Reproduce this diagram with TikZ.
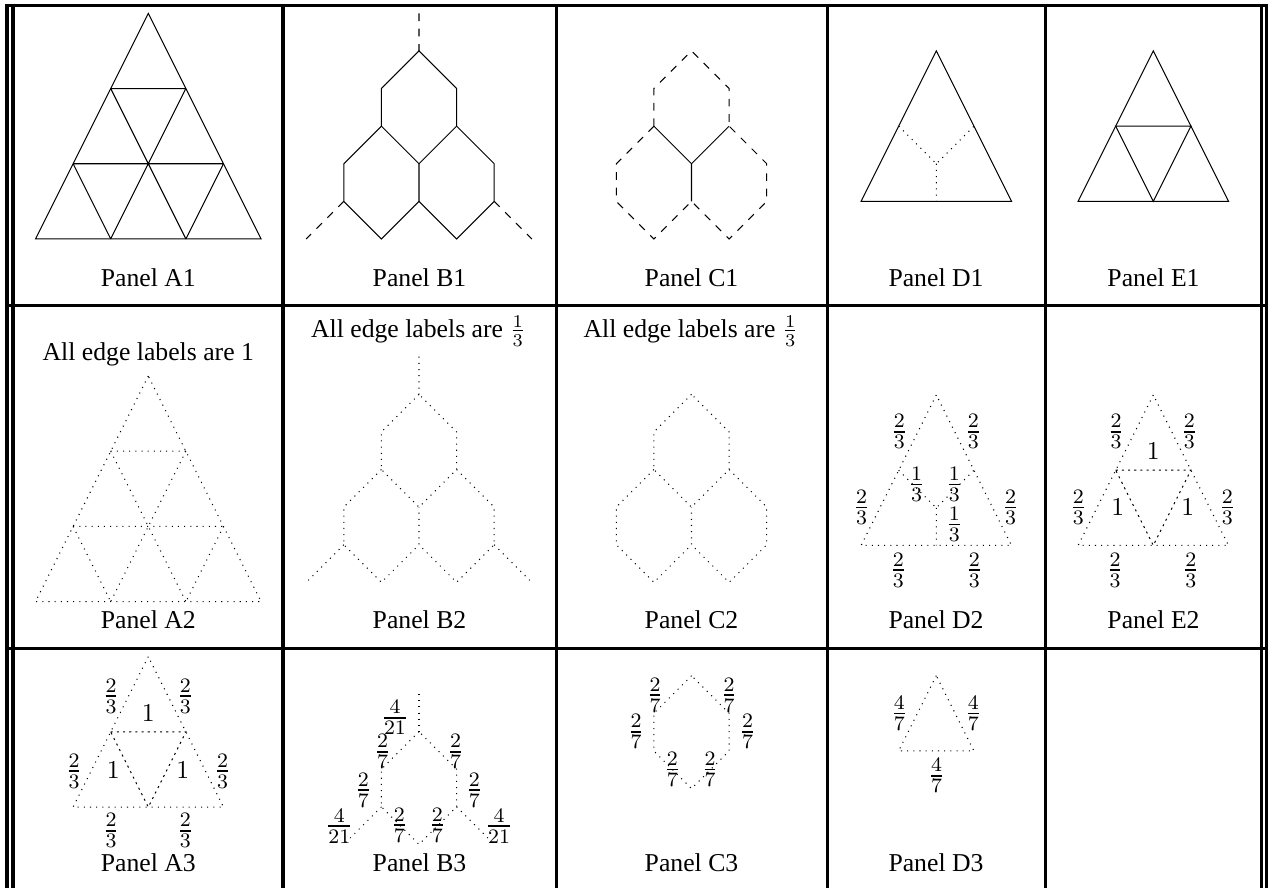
\documentclass[tikz,border=0pt]{standalone}
\usepackage{amsmath}
\usepackage[no-math]{fontspec}
\setmainfont{Liberation Serif}
\tikzset{
  rule/.style={line width=1.17pt},
  solidedge/.style={line width=0.4pt},
  dashedge/.style={line width=0.4pt,dashed},
  dotedge/.style={line width=0.4pt,dotted},
  inneredge/.style={line width=0.4pt,dash pattern=on 0.8pt off 1.6pt},
  lbl/.style={inner sep=0pt,font=\fontsize{11.4}{13}\selectfont},
  onelbl/.style={inner sep=0pt},
  captxt/.style={inner sep=0pt,anchor=base},
  panel/.style 2 args={shift={(#1,#2)},x=14.63pt,y=-14.63pt}
}
\newcommand\efrac[2]{\genfrac{}{}{0.65pt}{1}{#1}{#2}}
\newcommand\trigrid[1]{%
  \draw[#1] (0,0) -- (-3,6) -- (3,6) -- cycle;
  \draw[#1] (-1,2) -- (1,2) (-2,4) -- (2,4)
            (-1,2) -- (1,6) (-2,4) -- (-1,6)
            (1,2) -- (-1,6) (2,4) -- (1,6);}
\newcommand\hexthree[1]{%
  \draw[#1] (0,1) -- (-1,2) -- (-1,3) -- (0,4) -- (1,3) -- (1,2) -- cycle;
  \draw[#1] (-1,3) -- (-2,4) -- (-2,5) -- (-1,6) -- (0,5) -- (0,4);
  \draw[#1] (1,3) -- (2,4) -- (2,5) -- (1,6) -- (0,5);}
\begin{document}
\begin{tikzpicture}[x=0.389pt,y=-0.389pt]
\useasboundingbox (0,0) rectangle (1268,888);
% table rules
\draw[rule] (5.5,5.3) -- (1268,5.3);
\draw[rule] (5.5,305.5) -- (1268,305.5);
\draw[rule] (5.5,648.3) -- (1268,648.3);
\foreach \xx in {7,13,283,556,827,1045,1261.5,1266.5}
  \draw[rule] (\xx,3.8) -- (\xx,888);

% ---------------- Row 1 ----------------
\begin{scope}[panel={148.3}{13.3}]
  \trigrid{solidedge}
\end{scope}
\begin{scope}[panel={419}{13.3}]
  \hexthree{solidedge}
  \draw[dashedge] (0,0) -- (0,1) (-2,5) -- (-3,6) (2,5) -- (3,6);
\end{scope}
\begin{scope}[panel={691.5}{13.3}]
  \draw[solidedge] (-1,3) -- (0,4) -- (1,3) (0,4) -- (0,5);
  \draw[dashedge] (-1,3) -- (-1,2) -- (0,1) -- (1,2) -- (1,3);
  \draw[dashedge] (-1,3) -- (-2,4) -- (-2,5) -- (-1,6) -- (0,5) -- (1,6) -- (2,5) -- (2,4) -- (1,3);
\end{scope}
\begin{scope}[panel={936.3}{13.3}]
  \draw[solidedge] (0,1) -- (-2,5) -- (2,5) -- cycle;
  \draw[dotedge] (-1,3) -- (0,4) -- (1,3) (0,4) -- (0,5);
\end{scope}
\begin{scope}[panel={1153.3}{13.3}]
  \draw[solidedge] (0,1) -- (-2,5) -- (2,5) -- cycle;
  \draw[solidedge] (-1,3) -- (1,3) -- (0,5) -- cycle;
\end{scope}
\node[captxt] (capA1) at (148.3,286) {Panel A1};
\node[captxt] (capB1) at (419.5,286) {Panel B1};
\node[captxt] (capC1) at (691.5,286) {Panel C1};
\node[captxt] (capD1) at (936,286) {Panel D1};
\node[captxt] (capE1) at (1153.5,286) {Panel E1};

% ---------------- Row 2 ----------------
\node[captxt] (txtA2) at (148.3,360.5) {All edge labels are 1};
\node[captxt] (txtB2) at (418.5,337.3) {All edge labels are $\frac{1}{3}$};
\node[captxt] (txtC2) at (691,337.3) {All edge labels are $\frac{1}{3}$};
\begin{scope}[panel={148.3}{376}]
  \trigrid{dotedge}
\end{scope}
\begin{scope}[panel={419}{356.7}]
  \hexthree{dotedge}
  \draw[dotedge] (0,0) -- (0,1) (-2,5) -- (-3,6) (2,5) -- (3,6);
\end{scope}
\begin{scope}[panel={691.5}{356.7}]
  \hexthree{dotedge}
\end{scope}
\begin{scope}[panel={936.3}{357.4}]
  \draw[dotedge] (0,1) -- (-2,5) -- (2,5) -- cycle;
  \draw[dotedge] (-1,3) -- (0,4) -- (1,3) (0,4) -- (0,5);
\end{scope}
\begin{scope}[panel={1153.3}{357.4}]
  \draw[dotedge] (0,1) -- (-2,5) -- (2,5) -- cycle;
  \draw[inneredge] (-1,3) -- (1,3) -- (0,5) -- cycle;
\end{scope}
% D2 labels
\node[lbl] (d2a) at (899.3,431.7) {$\efrac{2}{3}$};
\node[lbl] (d2b) at (973.3,431.7) {$\efrac{2}{3}$};
\node[lbl] (d2c) at (861.7,507.3) {$\efrac{2}{3}$};
\node[lbl] (d2d) at (1010.7,507.3) {$\efrac{2}{3}$};
\node[lbl] (d2e) at (898.3,570) {$\efrac{2}{3}$};
\node[lbl] (d2f) at (974.3,570) {$\efrac{2}{3}$};
\node[lbl] (d2g) at (916.7,484.3) {$\efrac{1}{3}$};
\node[lbl] (d2h) at (954.3,484.3) {$\efrac{1}{3}$};
\node[lbl] (d2i) at (954.3,524.3) {$\efrac{1}{3}$};
% E2 labels
\node[lbl] (e2a) at (1116,431.7) {$\efrac{2}{3}$};
\node[lbl] (e2b) at (1189.3,431.7) {$\efrac{2}{3}$};
\node[lbl] (e2c) at (1078.3,507.3) {$\efrac{2}{3}$};
\node[lbl] (e2d) at (1227.3,507.3) {$\efrac{2}{3}$};
\node[lbl] (e2e) at (1115,570) {$\efrac{2}{3}$};
\node[lbl] (e2f) at (1190.7,570) {$\efrac{2}{3}$};
\node[onelbl] (e2g) at (1153.3,451.7) {$1$};
\node[onelbl] (e2h) at (1117.7,507.3) {$1$};
\node[onelbl] (e2i) at (1187.7,507.3) {$1$};
\node[captxt] (capA2) at (148.3,628) {Panel A2};
\node[captxt] (capB2) at (419.5,628) {Panel B2};
\node[captxt] (capC2) at (691.5,628) {Panel C2};
\node[captxt] (capD2) at (936,628) {Panel D2};
\node[captxt] (capE2) at (1153.5,628) {Panel E2};

% ---------------- Row 3 ----------------
\begin{scope}[panel={148.3}{619.1}]
  \draw[dotedge] (0,1) -- (-2,5) -- (2,5) -- cycle;
  \draw[inneredge] (-1,3) -- (1,3) -- (0,5) -- cycle;
\end{scope}
\node[lbl] (a3a) at (111,696) {$\efrac{2}{3}$};
\node[lbl] (a3b) at (185.3,696) {$\efrac{2}{3}$};
\node[lbl] (a3c) at (74,771) {$\efrac{2}{3}$};
\node[lbl] (a3d) at (222.7,771) {$\efrac{2}{3}$};
\node[lbl] (a3e) at (111,830.5) {$\efrac{2}{3}$};
\node[lbl] (a3f) at (185.3,830.5) {$\efrac{2}{3}$};
\node[onelbl] (a3g) at (148.3,713) {$1$};
\node[onelbl] (a3h) at (113.3,770) {$1$};
\node[onelbl] (a3i) at (182.7,770) {$1$};
\begin{scope}[panel={419}{694}]
  \draw[dotedge] (0,0) -- (0,1);
  \draw[dotedge] (0,1) -- (-1,2) -- (-1,3) -- (0,4) -- (1,3) -- (1,2) -- cycle;
  \draw[dotedge] (-1,3) -- (-2,4) (1,3) -- (2,4);
\end{scope}
\node[lbl] (b3a) at (395,717.7) {$\efrac{4}{21}$};
\node[lbl] (b3b) at (382.7,751.7) {$\efrac{2}{7}$};
\node[lbl] (b3c) at (455.7,751.7) {$\efrac{2}{7}$};
\node[lbl] (b3d) at (363.3,790) {$\efrac{2}{7}$};
\node[lbl] (b3e) at (474.3,790) {$\efrac{2}{7}$};
\node[lbl] (b3f) at (399.3,825) {$\efrac{2}{7}$};
\node[lbl] (b3g) at (437.3,825) {$\efrac{2}{7}$};
\node[lbl] (b3h) at (339.3,826) {$\efrac{4}{21}$};
\node[lbl] (b3i) at (499,826) {$\efrac{4}{21}$};
\begin{scope}[panel={691.5}{638.1}]
  \draw[dotedge] (0,1) -- (-1,2) -- (-1,3) -- (0,4) -- (1,3) -- (1,2) -- cycle;
\end{scope}
\node[lbl] (c3a) at (655,695) {$\efrac{2}{7}$};
\node[lbl] (c3b) at (729,695) {$\efrac{2}{7}$};
\node[lbl] (c3c) at (636,731.7) {$\efrac{2}{7}$};
\node[lbl] (c3d) at (747.7,731.7) {$\efrac{2}{7}$};
\node[lbl] (c3e) at (672.3,769.3) {$\efrac{2}{7}$};
\node[lbl] (c3f) at (710,769.3) {$\efrac{2}{7}$};
\begin{scope}[panel={936.3}{638.1}]
  \draw[dotedge] (0,1) -- (-1,3) -- (1,3) -- cycle;
\end{scope}
\node[lbl] (d3a) at (899.3,713.3) {$\efrac{4}{7}$};
\node[lbl] (d3b) at (973.3,713.3) {$\efrac{4}{7}$};
\node[lbl] (d3c) at (936.7,775.7) {$\efrac{4}{7}$};
\node[captxt] (capA3) at (148.3,871) {Panel A3};
\node[captxt] (capB3) at (419.5,871) {Panel B3};
\node[captxt] (capC3) at (691.5,871) {Panel C3};
\node[captxt] (capD3) at (936,871) {Panel D3};
\end{tikzpicture}
\end{document}
